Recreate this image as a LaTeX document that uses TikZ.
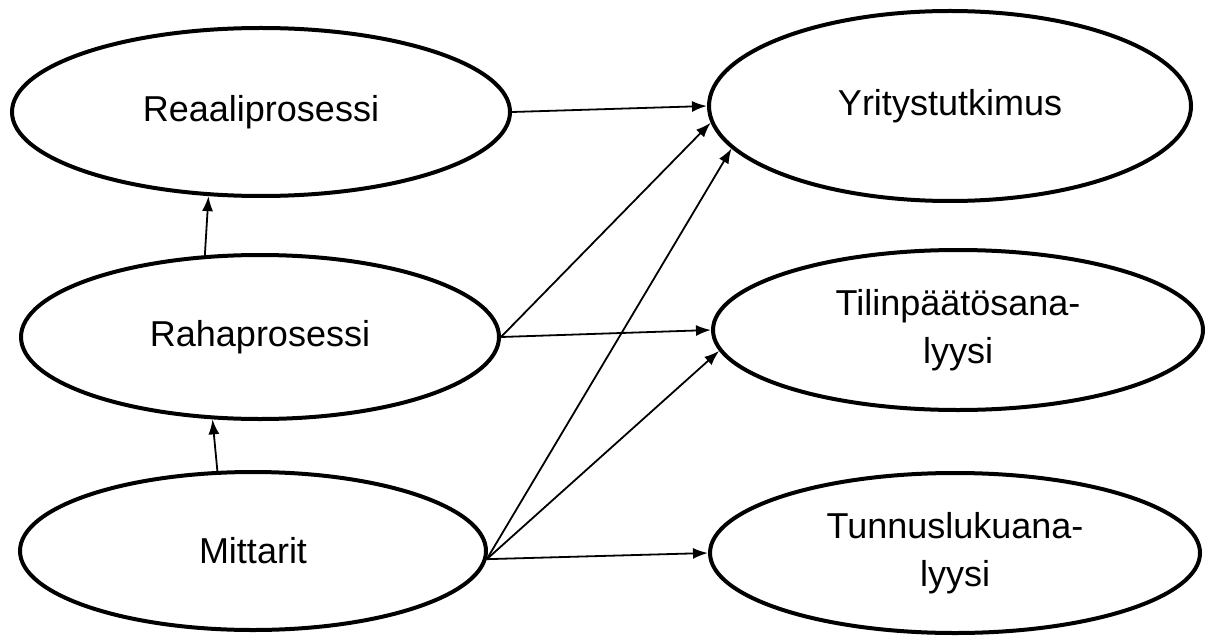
\documentclass[tikz,border=0pt]{standalone}
\usepackage{fontspec}
\setmainfont{Liberation Sans}
\usetikzlibrary{shapes.geometric,arrows.meta}

\begin{document}
\begin{tikzpicture}[
        x=0.5pt,y=-0.5pt,
        oval/.style={ellipse,draw,line width=2pt,inner sep=0pt,align=center,
            font=\fontsize{18}{24}\selectfont},
        link/.style={-{Latex[length=7.5pt,width=5.5pt]},line width=0.9pt}
    ]
        \useasboundingbox (0,0) rectangle (1208,636);

        % Define the nodes
        \node[oval,minimum width=249pt,minimum height=84pt] (reaali) at (261,112) {Reaaliprosessi};
        \node[oval,minimum width=239pt,minimum height=82pt] (raha) at (260,337) {Rahaprosessi};
        \node[oval,minimum width=233pt,minimum height=79pt] (mittarit) at (253,551) {Mittarit};
        \node[oval,minimum width=241pt,minimum height=95pt] (yritys) at (950,106) {Yritystutkimus};
        \node[oval,minimum width=245pt,minimum height=80pt] (tilin) at (958,330) {Tilinpäätösana-\\lyysi};
        \node[oval,minimum width=245pt,minimum height=80pt] (tunnus) at (955,553) {Tunnuslukuana-\\lyysi};

        % Draw the arrows on the left
        \draw[link] (raha.124) -- (reaali.238);
        \draw[link] (mittarit.114) -- (raha.240);

        % Draw the arrows to the right
        \draw[link] (reaali.east) -- (yritys.west);
        \draw[link] (raha.east) -- (yritys.184);
        \draw[link] (raha.east) -- (tilin.west);
        \draw[link] (mittarit.-2) -- (yritys.191);
        \draw[link] (mittarit.-2) -- (tilin.185);
        \draw[link] (mittarit.-2) -- (tunnus.west);
    \end{tikzpicture}
\end{document}
